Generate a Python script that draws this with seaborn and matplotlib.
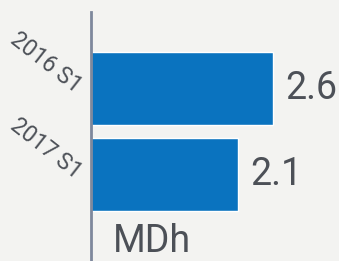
import matplotlib
matplotlib.use("Agg")
import matplotlib.pyplot as plt
import seaborn as sns

categories = ["2016 S1", "2017 S1"]
values     = [2.6, 2.1]
unit_label = "MDh"

BG       = "#f3f3f1"
BAR_BLUE = "#0a73bf"
TXT_GREY = "#4c5057"
AXIS_COL = "#7e889c"

sns.set_theme(style="white")
plt.rcParams["font.family"] = ["Roboto", "DejaVu Sans"]

fig = plt.figure(figsize=(3.39, 2.61), dpi=100, facecolor=BG)
ax = fig.add_axes([91 / 339, 0.0, 248 / 339, 1 - 12 / 261])
ax.set_facecolor(BG)

sns.barplot(x=values, y=categories, orient="h", color=BAR_BLUE,
            saturation=1, width=0.86, ax=ax)

ax.set_xlim(0, 3.54)
ax.set_ylim(2.006, -0.89)

for side in ["top", "right", "bottom"]:
    ax.spines[side].set_visible(False)
ax.spines["left"].set_color(AXIS_COL)
ax.spines["left"].set_linewidth(2)

ax.set_xticks([])
ax.set_xlabel("")
ax.set_ylabel("")
ax.tick_params(axis="y", length=0, pad=9)
for lbl in ax.get_yticklabels():
    lbl.set_rotation(-38)
    lbl.set_rotation_mode("anchor")
    lbl.set_ha("right")
    lbl.set_va("center")
    lbl.set_fontsize(16.5)
    lbl.set_color(TXT_GREY)

ax.bar_label(ax.containers[0], labels=[f"{v}" for v in values], padding=9,
             fontsize=27, color=TXT_GREY)

ax.text(0.089, 0.035, unit_label, transform=ax.transAxes, ha="left",
        va="baseline", fontsize=27, color=TXT_GREY)

fig.savefig("out.png", dpi=100, facecolor=BG)
